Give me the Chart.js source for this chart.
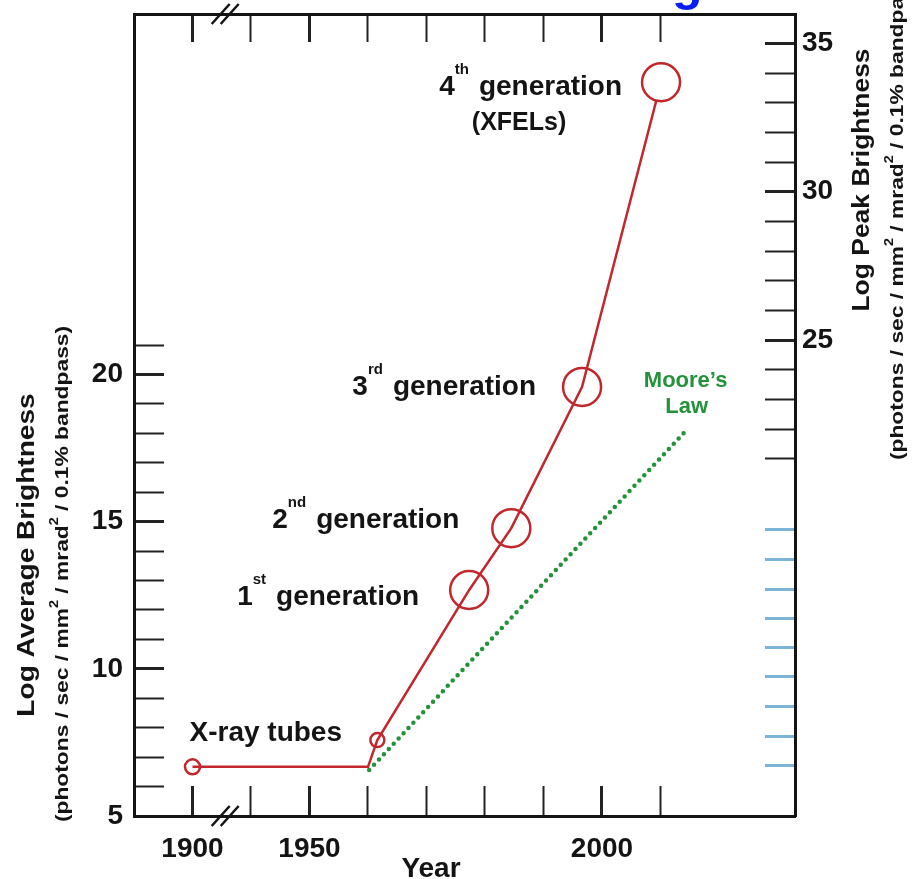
<!DOCTYPE html>
<html>
<head>
<meta charset="utf-8">
<script src="https://cdn.jsdelivr.net/npm/chart.js@4.4.1/dist/chart.umd.min.js"></script>
<style>
    html, body { margin: 0; padding: 0; background: #fff; }
    #wrap { width: 920px; height: 879px; }
</style>
</head>
<body>
<div id="wrap"><canvas id="brightness" width="920" height="879"></canvas></div>
<script>
// Years before the axis break are drawn shifted right by this many years
const breakShift = 30;
const breakAt = 1935.5;

// Red curve: x-ray sources (year, log average brightness)
const sourceYears = [1900, 1960, 1961.6, 1977.3, 1984.5, 1996.6, 2010.1];
const sourceValues = [6.67, 6.67, 7.58, 12.68, 14.78, 19.58, 29.93];

// Green dotted Moore's law line
const mooreYears = [1960.2, 2014.3];
const mooreValues = [6.56, 18.08];

// Axis ticks
const xTickYears = [1900, 1940, 1950, 1960, 1970, 1980, 1990, 2000, 2010];
const xLabelYears = [1900, 1950, 2000];
const avgTicks = [5, 6, 7, 8, 9, 10, 11, 12, 13, 14, 15, 16, 17, 18, 19, 20, 21];
const avgLabels = [5, 10, 15, 20];
const peakTicks = [21, 22, 23, 24, 25, 26, 27, 28, 29, 30, 31, 32, 33, 34, 35];
const peakLabels = [25, 30, 35];
const peakBlueTicks = [18.6, 17.6, 16.6, 15.6, 14.65, 13.65, 12.65, 11.65, 10.65];

// Generation labels (index into the source arrays)
const genIndex = [3, 4, 5, 6];
const genNumber = ['1', '2', '3', '4'];
const genSuffix = ['st', 'nd', 'rd', 'th'];

// styles
const FONT = '"Liberation Sans", Arial, Helvetica, sans-serif';
const RED = '#c1272d';
const GREEN = '#24923a';
const INK = '#141414';
const pointRadius = [7.5, 0, 7, 19, 19, 19, 19];
const pointFill = ['rgba(0,0,0,0)', 'rgba(0,0,0,0)', 'rgba(0,0,0,0)', 'rgba(0,0,0,0)', 'rgba(0,0,0,0)', 'rgba(0,0,0,0)', '#ffffff'];
const genDx = [-50, -52, -46, -39];
const genDy = [15, 0, 8, 13];

function toAxis(year) {
    return year < 1940 ? year + breakShift : year;
}
function fromAxis(v) {
    return v < 1940 ? v - breakShift : v;
}

function drawGen(ctx, num, sup, word, rightX, baseY) {
    const big = 'bold 28px ' + FONT;
    const small = 'bold 15px ' + FONT;
    ctx.textAlign = 'left';
    ctx.textBaseline = 'alphabetic';
    ctx.font = big;
    const wWord = ctx.measureText(word).width;
    const wNum = ctx.measureText(num).width;
    ctx.font = small;
    const wSup = ctx.measureText(sup).width;
    let x = rightX - wWord;
    ctx.font = big;
    ctx.fillText(word, x, baseY);
    x -= 10 + wSup;
    ctx.font = small;
    ctx.fillText(sup, x, baseY - 21);
    x -= wNum;
    ctx.font = big;
    ctx.fillText(num, x, baseY);
}

// rotated (bottom to top) text made of parts, some of them superscript
function drawVText(ctx, parts, cx, cy, stretch) {
    ctx.save();
    ctx.translate(cx, cy);
    ctx.rotate(-Math.PI / 2);
    ctx.scale(stretch, 1);
    ctx.textAlign = 'left';
    ctx.textBaseline = 'alphabetic';
    let total = 0;
    parts.forEach(function(p) {
        ctx.font = p.font;
        total += ctx.measureText(p.t).width;
    });
    let x = -total / 2;
    parts.forEach(function(p) {
        ctx.font = p.font;
        ctx.fillText(p.t, x, 6 + (p.up || 0));
        x += ctx.measureText(p.t).width;
    });
    ctx.restore();
}

function unitParts() {
    const f = 'bold 19px ' + FONT;
    const s = 'bold 12px ' + FONT;
    return [
        { t: '(photons / sec / mm', font: f },
        { t: '2', font: s, up: -10 },
        { t: ' / mrad', font: f },
        { t: '2', font: s, up: -10 },
        { t: ' / 0.1% bandpass)', font: f }
    ];
}

const textPlugin = {
    id: 'textPlugin',
    afterDraw: function(chart) {
        const ctx = chart.ctx;
        const xs = chart.scales.x;
        const ys = chart.scales.y;
        ctx.save();
        ctx.fillStyle = INK;

        // generation labels next to their circles
        genIndex.forEach(function(idx, i) {
            const px = xs.getPixelForValue(toAxis(sourceYears[idx]));
            const py = ys.getPixelForValue(sourceValues[idx]);
            drawGen(ctx, genNumber[i], genSuffix[i], 'generation', px + genDx[i], py + genDy[i]);
            if (i === 3) {
                ctx.font = 'bold 25px ' + FONT;
                ctx.textAlign = 'center';
                ctx.fillText('(XFELs)', px - 142, py + 48);
            }
        });

        // x-ray tubes
        const tx = xs.getPixelForValue(toAxis(sourceYears[0]));
        const ty = ys.getPixelForValue(sourceValues[0]);
        ctx.font = 'bold 28px ' + FONT;
        ctx.textAlign = 'left';
        ctx.fillText('X-ray tubes', tx - 3, ty - 26);

        // Moore's law label above the end of the dotted line
        const mx = xs.getPixelForValue(mooreYears[1]);
        const my = ys.getPixelForValue(mooreValues[1]);
        ctx.fillStyle = GREEN;
        ctx.font = 'bold 22px ' + FONT;
        ctx.textAlign = 'center';
        ctx.fillText('Moore\u2019s', mx, my - 44);
        ctx.fillText('Law', mx + 1, my - 18);

        // axis break marks
        const bx = xs.getPixelForValue(breakAt);
        ctx.strokeStyle = INK;
        ctx.lineWidth = 2.5;
        [chart.chartArea.top, chart.chartArea.bottom].forEach(function(yy) {
            [-4, 5].forEach(function(off) {
                ctx.beginPath();
                ctx.moveTo(bx + off - 9, yy + 10);
                ctx.lineTo(bx + off + 9, yy - 10);
                ctx.stroke();
            });
        });

        // axis titles
        ctx.fillStyle = INK;
        ctx.font = 'bold 28px ' + FONT;
        ctx.textAlign = 'center';
        ctx.fillText('Year', 431, 877);

        drawVText(ctx, [{ t: 'Log Average Brightness', font: 'bold 23px ' + FONT }], 28, 555, 1.22);
        drawVText(ctx, unitParts(), 62, 574, 1.2);
        drawVText(ctx, [{ t: 'Log Peak Brightness', font: 'bold 23px ' + FONT }], 863, 180, 1.15);
        drawVText(ctx, unitParts(), 897, 212, 1.2);

        // tail of the cut-off blue heading
        ctx.fillStyle = '#0a1ef2';
        ctx.font = 'bold 50px ' + FONT;
        ctx.textAlign = 'left';
        ctx.fillText('g', 672, 0);
        ctx.restore();
    }
};

function isMajorX(v) {
    return xLabelYears.indexOf(fromAxis(v)) >= 0;
}

// fixed axis sizes so the plot frame lands where the original has it
function fixSize(prop, size) {
    return function(s) {
        s[prop] = size;
        s.paddingTop = 0;
        s.paddingBottom = 0;
        s.paddingLeft = 0;
        s.paddingRight = 0;
    };
}

const xMin = 1920, xMax = 2033;

new Chart(document.getElementById('brightness'), {
    type: 'line',
    data: {
        datasets: [{
            data: sourceYears.map(function(yr, i) { return { x: toAxis(yr), y: sourceValues[i] }; }),
            borderColor: RED,
            borderWidth: 2.5,
            pointRadius: pointRadius,
            pointBorderColor: RED,
            pointBorderWidth: 2.5,
            pointBackgroundColor: pointFill,
            tension: 0,
            order: 1,
            xAxisID: 'x',
            yAxisID: 'y'
        }, {
            data: mooreYears.map(function(yr, i) { return { x: toAxis(yr), y: mooreValues[i] }; }),
            borderColor: GREEN,
            borderWidth: 4.5,
            borderDash: [0, 7.2],
            borderCapStyle: 'round',
            pointRadius: 0,
            order: 2,
            xAxisID: 'x',
            yAxisID: 'y'
        }]
    },
    options: {
        responsive: false,
        animation: false,
        events: [],
        layout: { padding: 0, autoPadding: false },
        plugins: {
            legend: { display: false },
            tooltip: { enabled: false }
        },
        scales: {
            x: {
                type: 'linear',
                position: 'bottom',
                min: xMin,
                max: xMax,
                afterBuildTicks: function(s) {
                    s.ticks = xTickYears.map(function(yr) { return { value: toAxis(yr) }; });
                },
                afterFit: fixSize('height', 63),
                ticks: {
                    autoSkip: false,
                    maxRotation: 0,
                    padding: 46,
                    color: INK,
                    font: { family: FONT, size: 28, weight: 'bold' },
                    callback: function(v) { return isMajorX(v) ? String(fromAxis(v)) : ''; }
                },
                grid: {
                    drawOnChartArea: false,
                    tickLength: -30,
                    tickColor: '#222',
                    tickWidth: function(c) { return c.tick && isMajorX(c.tick.value) ? 3 : 2; }
                },
                border: { display: true, width: 3, color: INK }
            },
            xt: {
                type: 'linear',
                position: 'top',
                min: xMin,
                max: xMax,
                afterBuildTicks: function(s) {
                    s.ticks = xTickYears.map(function(yr) { return { value: toAxis(yr) }; });
                },
                afterFit: fixSize('height', 14),
                ticks: { display: false },
                grid: {
                    drawOnChartArea: false,
                    tickLength: -28,
                    tickColor: '#222',
                    tickWidth: function(c) { return c.tick && isMajorX(c.tick.value) ? 3 : 2; }
                },
                border: { display: true, width: 3, color: INK }
            },
            y: {
                type: 'linear',
                position: 'left',
                min: 5,
                max: 32.25,
                afterBuildTicks: function(s) {
                    s.ticks = avgTicks.map(function(v) { return { value: v }; });
                },
                afterFit: fixSize('width', 134),
                ticks: {
                    autoSkip: false,
                    padding: 41,
                    color: INK,
                    font: { family: FONT, size: 28, weight: 'bold' },
                    callback: function(v) { return avgLabels.indexOf(v) >= 0 ? String(v) : ''; }
                },
                grid: {
                    drawOnChartArea: false,
                    tickLength: -30,
                    tickColor: '#222',
                    tickWidth: function(c) { return c.tick && avgLabels.indexOf(c.tick.value) >= 0 ? 3 : 2; }
                },
                border: { display: true, width: 3, color: INK }
            },
            y2: {
                type: 'linear',
                position: 'right',
                min: 8.96,
                max: 35.99,
                afterBuildTicks: function(s) {
                    s.ticks = peakTicks.concat(peakBlueTicks).map(function(v) { return { value: v }; });
                },
                afterFit: fixSize('width', 125),
                ticks: {
                    autoSkip: false,
                    padding: 37,
                    color: INK,
                    font: { family: FONT, size: 28, weight: 'bold' },
                    callback: function(v) { return peakLabels.indexOf(v) >= 0 ? String(v) : ''; }
                },
                grid: {
                    drawOnChartArea: false,
                    tickLength: -30,
                    tickColor: function(c) {
                        return c.tick && peakBlueTicks.indexOf(c.tick.value) >= 0 ? '#7db5d9' : '#222';
                    },
                    tickWidth: function(c) {
                        if (!c.tick) return 2;
                        if (peakBlueTicks.indexOf(c.tick.value) >= 0) return 3;
                        return peakLabels.indexOf(c.tick.value) >= 0 ? 3 : 2;
                    }
                },
                border: { display: true, width: 3, color: INK }
            }
        }
    },
    plugins: [textPlugin]
});
</script>
</body>
</html>
